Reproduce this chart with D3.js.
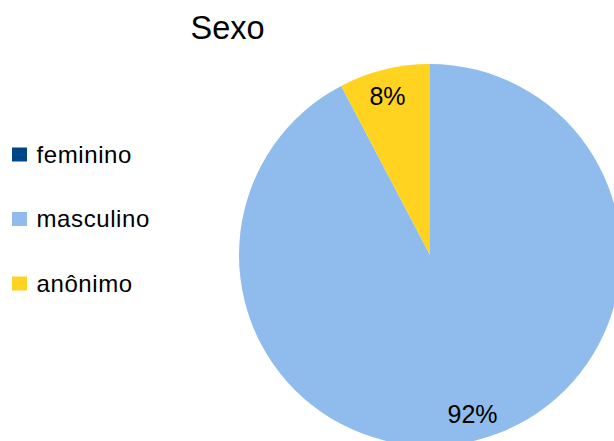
<!DOCTYPE html>
<html>
<head>
<meta charset="utf-8">
<script src="https://cdn.jsdelivr.net/npm/d3@7"></script>
<style>
  html, body { margin: 0; padding: 0; background: #ffffff; overflow: hidden; }
  svg { display: block; font-family: "Liberation Sans", Arial, sans-serif; }
</style>
</head>
<body>
<svg id="chart" width="614" height="441"></svg>
<script>
const title = "Sexo";
const categories = ["feminino", "masculino", "anônimo"];
const values = [0, 12, 1];
const colors = ["#004586", "#8FBCEC", "#FFD320"];

const W = 614, H = 441;
const svg = d3.select("#chart");
svg.append("rect").attr("width", W).attr("height", H).attr("fill", "#fff");

const cx = 430, cy = 255, R = 191;
const data = categories.map((c, i) => ({ name: c, value: values[i], color: colors[i] }));
const total = d3.sum(values);

const pie = d3.pie().sort(null).value(d => d.value);
const arcs = pie(data);
const arc = d3.arc().innerRadius(0).outerRadius(R);

const g = svg.append("g").attr("transform", `translate(${cx},${cy})`);
g.selectAll("path.slice")
  .data(arcs.filter(a => a.data.value > 0))
  .join("path")
  .attr("class", "slice")
  .attr("d", arc)
  .attr("fill", d => d.data.color);

const fmt = d3.format(".0%");
const lrx = R * 0.93, lry = R * 0.86;
g.selectAll("text.lbl")
  .data(arcs.filter(a => a.data.value > 0))
  .join("text")
  .attr("class", "lbl")
  .attr("x", d => lrx * Math.sin((d.startAngle + d.endAngle) / 2))
  .attr("y", d => -lry * Math.cos((d.startAngle + d.endAngle) / 2))
  .attr("dy", "0.36em")
  .attr("text-anchor", "middle")
  .attr("font-size", 25)
  .attr("fill", "#000")
  .text(d => fmt(d.data.value / total));

svg.append("text")
  .attr("x", 190.5)
  .attr("y", 39)
  .attr("font-size", 32.5)
  .attr("fill", "#000")
  .text(title);

const legY = d3.scalePoint().domain(categories).range([162.5, 291.5]);
const leg = svg.append("g").selectAll("g").data(data).join("g")
  .attr("transform", d => `translate(0,${legY(d.name)})`);
leg.append("rect")
  .attr("x", 12).attr("y", -15).attr("width", 15).attr("height", 14)
  .attr("fill", d => d.color);
leg.append("text")
  .attr("x", 36.5).attr("y", 0)
  .attr("font-size", 24)
  .attr("letter-spacing", "0.6px")
  .attr("fill", "#000")
  .text(d => d.name);
</script>
</body>
</html>
